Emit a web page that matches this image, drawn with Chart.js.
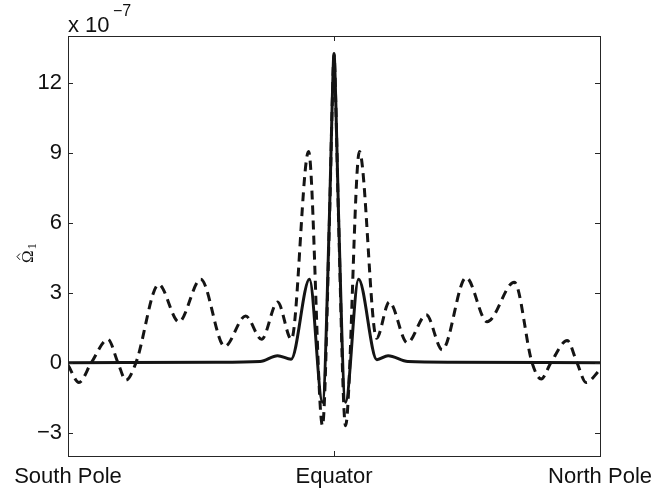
<!DOCTYPE html>
<html>
<head>
<meta charset="utf-8">
<script src="https://cdn.jsdelivr.net/npm/chart.js@4.4.1/dist/chart.umd.min.js"></script>
<style>
  html, body { margin: 0; padding: 0; background: #fff; }
  #wrap { width: 660px; height: 489px; }
</style>
</head>
<body>
<div id="wrap"><canvas id="grafico"></canvas></div>
<script>
// --- Datos (unidades de 1e-7) ---
// Latitud en grados: -90 = polo sur, 0 = ecuador, 90 = polo norte
const latDashed = [-90, -86.3, -82.1, -76.5, -73.1, -70.4, -67.0, -59.3, -52.5, -45.1, -37.0, -29.9, -24.5,
                   -19.1, -14.4, -8.6, -3.9, -1.5, -0.6, 0, 0.6, 1.5, 3.9, 8.6, 14.4, 18.7, 24.8, 31.2, 36.6,
                   44.7, 51.8, 61.0, 67.0, 70.1, 73.4, 78.9, 82.2, 85.3, 90];
const valDashed = [-0.1, -0.85, 0, 1.0, 0, -0.75, 0, 3.35, 1.75, 3.57, 0.7, 2.0, 1.0,
                   2.6, 1.0, 9.05, -2.7, 6.3, 11.1, 13.2, 11.1, 6.3, -2.7, 9.05, 1.05, 2.6, 0.85, 2.05, 0.55,
                   3.65, 1.75, 3.45, 0, -0.7, 0, 0.95, 0, -0.85, -0.3];

const latSolid = [-90, -40, -25, -19.1, -14.5, -8.3, -3.9, -1.5, -0.6, 0, 0.6, 1.5, 3.9, 8.3, 14.5, 18.3, 25, 40, 90];
const valSolid = [0, 0.02, 0.05, 0.3, 0.15, 3.57, -1.7, 6.5, 11.2, 13.25, 11.2, 6.5, -1.7, 3.57, 0.13, 0.3, 0.05, 0.02, 0];

// Marcas de los ejes
const xTicks = [-90, 0, 90];
const xTickLabels = ['South Pole', 'Equator', 'North Pole'];
const yTicks = [-3, 0, 3, 6, 9, 12];

const FONT = '"Liberation Sans", Arial, Helvetica, sans-serif';
const SERIF = '"Liberation Serif", "DejaVu Serif", serif';
const INK = '#141414';

// Dibuja el marco, las marcas hacia adentro y los textos extra (estilo MATLAB)
const marcoPlugin = {
    id: 'marco',
    afterDraw(chart) {
        const { ctx, chartArea: a, scales: { x, y } } = chart;
        ctx.save();
        ctx.strokeStyle = '#262626';
        ctx.lineWidth = 1;
        ctx.strokeRect(Math.round(a.left) + 0.5, Math.round(a.top) + 0.5,
                       Math.round(a.right - a.left), Math.round(a.bottom - a.top));
        ctx.beginPath();
        yTicks.forEach(v => {
            const py = Math.round(y.getPixelForValue(v)) + 0.5;
            ctx.moveTo(a.left, py); ctx.lineTo(a.left + 5, py);
            ctx.moveTo(a.right, py); ctx.lineTo(a.right - 5, py);
        });
        xTicks.forEach(v => {
            const px = Math.round(x.getPixelForValue(v)) + 0.5;
            ctx.moveTo(px, a.bottom); ctx.lineTo(px, a.bottom - 5);
            ctx.moveTo(px, a.top); ctx.lineTo(px, a.top + 5);
        });
        ctx.stroke();

        // factor de escala "x 10^-7"
        ctx.fillStyle = '#111';
        ctx.textBaseline = 'alphabetic';
        ctx.textAlign = 'left';
        ctx.font = '22px ' + FONT;
        ctx.fillText('x 10', a.left, 32);
        ctx.font = '16px ' + FONT;
        ctx.fillText('\u22127', a.left + 45, 16);

        // etiqueta del eje Y: Omega con sombrero, subíndice 1
        ctx.translate(33, 263);
        ctx.rotate(-Math.PI / 2);
        ctx.font = '17px ' + SERIF;
        ctx.fillText('\u03A9', 0, 0);
        const w = ctx.measureText('\u03A9').width;
        ctx.strokeStyle = '#111';
        ctx.lineWidth = 1;
        ctx.beginPath();
        ctx.moveTo(w * 0.25, -13);
        ctx.lineTo(w * 0.5, -16);
        ctx.lineTo(w * 0.75, -13);
        ctx.stroke();
        ctx.font = '12px ' + SERIF;
        ctx.fillText('1', w + 1, 3);
        ctx.restore();
    }
};

const config = {
    type: 'line',
    data: {
        datasets: [
            {
                label: 'solid',
                data: latSolid.map((v, i) => ({ x: v, y: valSolid[i] })),
                borderColor: INK,
                borderWidth: 3,
                pointRadius: 0,
                cubicInterpolationMode: 'monotone',
                fill: false,
                order: 0
            },
            {
                label: 'dashed',
                data: latDashed.map((v, i) => ({ x: v, y: valDashed[i] })),
                borderColor: INK,
                borderWidth: 3,
                borderDash: [9, 6],
                pointRadius: 0,
                cubicInterpolationMode: 'monotone',
                fill: false,
                order: 1
            }
        ]
    },
    options: {
        responsive: true,
        maintainAspectRatio: false,
        animation: false,
        layout: { padding: { left: 0, right: 59, top: 36, bottom: 0 } },
        plugins: { legend: { display: false }, tooltip: { enabled: false } },
        scales: {
            x: {
                type: 'linear',
                min: -90, max: 90,
                grid: { display: false, drawTicks: false },
                border: { display: false },
                afterBuildTicks: s => { s.ticks = xTicks.map(v => ({ value: v })); },
                afterFit: s => { s.height = 33; },
                ticks: {
                    color: '#111',
                    padding: 8,
                    maxRotation: 0,
                    font: { family: FONT, size: 22 },
                    callback: v => xTickLabels[xTicks.indexOf(v)]
                }
            },
            y: {
                min: -4, max: 14,
                grid: { display: false, drawTicks: false },
                border: { display: false },
                afterBuildTicks: s => { s.ticks = yTicks.map(v => ({ value: v })); },
                afterFit: s => { s.width = 68; },
                ticks: {
                    color: '#111',
                    padding: 6,
                    font: { family: FONT, size: 22 },
                    callback: v => v < 0 ? '\u2212' + Math.abs(v) : String(v)
                }
            }
        }
    },
    plugins: [marcoPlugin]
};

new Chart(document.getElementById('grafico'), config);
</script>
</body>
</html>
